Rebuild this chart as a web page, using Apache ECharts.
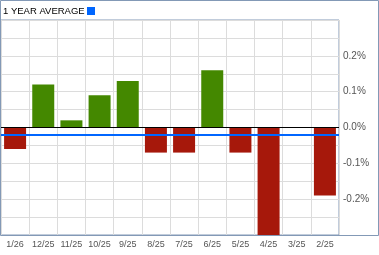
<!DOCTYPE html>
<html><head><meta charset="utf-8">
<script src="https://cdn.jsdelivr.net/npm/echarts@6/dist/echarts.min.js"></script>
<style>html,body{margin:0;padding:0;background:#fff}#c{width:379px;height:255px}</style>
</head><body><div id="c"></div>
<script>
var categories = ['1/26','12/25','11/25','10/25','9/25','8/25','7/25','6/25','5/25','4/25','3/25','2/25'];
var values = [-0.06, 0.12, 0.02, 0.09, 0.13, -0.07, -0.07, 0.16, -0.07, -0.33, 0, -0.19];
var average = -0.02;
var yTicks = [-0.2, -0.1, 0.0, 0.1, 0.2];
var titleText = '1 YEAR AVERAGE';

var frame = '#8399b6';
var chart = echarts.init(document.getElementById('c'), null, {renderer:'canvas'});
chart.setOption({
  animation:false,
  grid:{left:1, right:40, top:20, bottom:20, show:true, borderColor:frame, borderWidth:1, backgroundColor:'transparent'},
  graphic:[
    {type:'rect', shape:{x:0.5,y:0.5,width:378,height:235}, style:{fill:'none', stroke:frame, lineWidth:1}, z:100},
    {type:'text', left:3, top:6, style:{text:titleText, fontSize:9.5, fontFamily:'Liberation Sans, Arial', fill:'#000'}},
    {type:'rect', shape:{x:87,y:7,width:8,height:8}, style:{fill:'#0066ff'}}
  ],
  xAxis:{type:'category', data:categories, boundaryGap:true,
    axisLine:{show:false}, axisTick:{show:false},
    splitLine:{show:true, lineStyle:{color:'#dcdcdc', width:1}},
    axisLabel:{color:'#555', fontSize:9, fontFamily:'Liberation Sans, Arial', margin:5, interval:0}},
  yAxis:{type:'value', position:'right', min:-0.3, max:0.3, interval:0.05,
    axisLine:{show:false}, axisTick:{show:false},
    splitLine:{show:true, lineStyle:{color:'#dcdcdc', width:1}},
    axisLabel:{color:'#555', fontSize:10, fontFamily:'Liberation Sans, Arial', margin:4,
      formatter:function(v){
        for (var i=0;i<yTicks.length;i++){ if (Math.abs(v-yTicks[i])<1e-6) return yTicks[i].toFixed(1)+'%'; }
        return '';
      }}},
  series:[{type:'bar', data:values.map(function(v){return {value:v, itemStyle:{color: v>=0?'#448800':'#a6180b'}};}),
    barWidth:22, clip:true,
    markLine:{silent:true, symbol:'none', label:{show:false},
      data:[
        {yAxis:0, lineStyle:{color:'#000', width:1, type:'solid'}},
        {yAxis:average, lineStyle:{color:'#0066ff', width:2, type:'solid'}}
      ]}
  }]
});
</script></body></html>
